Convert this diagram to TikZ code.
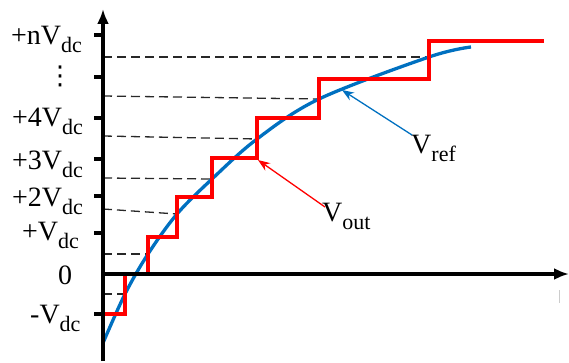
\documentclass[tikz,border=0pt]{standalone}
\usepackage{fontspec}
\setmainfont{Liberation Serif}
\newfontfamily\symfont{DejaVu Sans}
\usetikzlibrary{arrows.meta}
\definecolor{refblue}{RGB}{0,112,192}
\definecolor{outred}{RGB}{255,0,0}
\definecolor{dashgray}{RGB}{40,40,40}
\newcommand{\lsub}[1]{\raisebox{-8pt}{\fontsize{22}{22}\selectfont #1}}
\tikzset{
  lbl/.style={font=\fontsize{28}{32}\selectfont, inner sep=0pt, anchor=base west},
  axis/.style={line width=3.2pt, -{Latex[length=15pt,width=12pt]}},
  tick/.style={line width=3.2pt},
  guide/.style={dashgray, line width=1.3pt, dash pattern=on 9pt off 5pt},
  refcurve/.style={refblue, line width=3.3pt},
  stair/.style={outred, line width=3.4pt},
  pointer/.style={line width=1.3pt, -{Stealth[length=12pt,width=9pt]}}
}
\begin{document}
\begin{tikzpicture}[x=1pt,y=-1pt]
\useasboundingbox (0,0) rectangle (569,363);
% axis coordinates
\coordinate (ybot) at (103,361);
\coordinate (ytop) at (103,9);
\coordinate (xl) at (103,274);
\coordinate (xr) at (569,274);
% reference curve points
\coordinate (c1) at (125,294);
\coordinate (c2) at (148,254);
\coordinate (c3) at (177,214);
\coordinate (c4) at (212,179);
\coordinate (c5) at (257,139);
\coordinate (c6) at (319,99);
\coordinate (c7) at (429,57);
% dashed guide lines
\coordinate (d1) at (103,294);
\coordinate (d2) at (103,254);
\coordinate (d3) at (103,209);
\coordinate (d4) at (103,178);
\coordinate (d5) at (103,136);
\coordinate (d6) at (103,96);
\coordinate (d7) at (103,57);
\foreach \i in {1,...,7} { \draw[guide] (d\i) -- (c\i); }
% reference curve
\draw[refcurve] plot[smooth, tension=0.55] coordinates {(103,343) (125,294) (148,254) (177,214) (212,179) (257,139) (319,99) (429,57) (471,47)};
% staircase output
\draw[stair] (103,314) -- (125,314) -- (125,274) -- (148,274) -- (148,237) -- (177,237) -- (177,197) -- (212,197) -- (212,158) -- (257,158) -- (257,118) -- (319,118) -- (319,79) -- (429,79) -- (429,41) -- (544,41);
% axes
\draw[axis] (ybot) -- (ytop);
\draw[axis] (xl) -- (xr);
\foreach \yy in {35,77,118,159,196,233,314} { \draw[tick] (94,\yy) -- (103,\yy); }
% axis labels
\node[lbl] (ln) at (11,45) {+nV\lsub{dc}};
\node[font=\symfont\fontsize{26}{26}\selectfont, inner sep=0pt] (ldots) at (60,76) {⋮};
\node[lbl] (l4) at (12,127) {+4V\lsub{dc}};
\node[lbl] (l3) at (12,170) {+3V\lsub{dc}};
\node[lbl] (l2) at (12,206) {+2V\lsub{dc}};
\node[lbl] (l1) at (22,240) {+V\lsub{dc}};
\node[lbl] (l0) at (58,284) {0};
\node[lbl] (lm) at (30,323) {-V\lsub{dc}};
% pointer labels
\node[lbl] (vref) at (411,154) {V\lsub{ref}};
\node[lbl] (vout) at (322,221) {V\lsub{out}};
\coordinate (vrefs) at (412,135);
\coordinate (vreft) at (342,90);
\coordinate (vouts) at (325,207);
\coordinate (voutt) at (258,160);
\draw[pointer, refblue] (vrefs) -- (vreft);
\draw[pointer, outred] (vouts) -- (voutt);
% faint mark
\coordinate (m1) at (559,290);
\coordinate (m2) at (559,303);
\draw[gray!40, line width=0.8pt] (m1) -- (m2);
\end{tikzpicture}
\end{document}
